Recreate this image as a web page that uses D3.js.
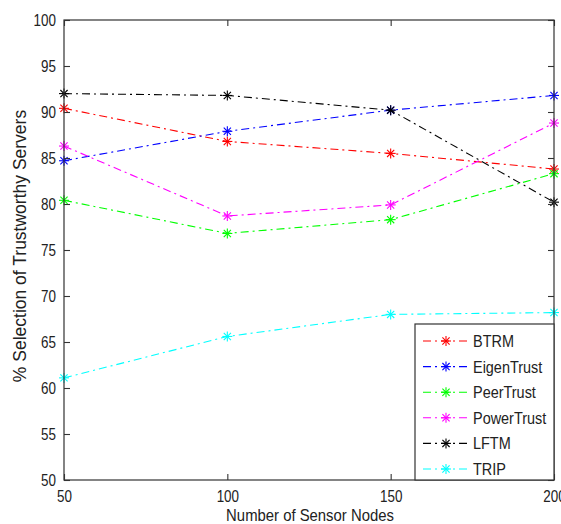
<!DOCTYPE html>
<html>
<head>
<meta charset="utf-8">
<script src="https://cdn.jsdelivr.net/npm/d3@7"></script>
<style>
  html, body { margin: 0; padding: 0; background: #fff; }
  svg { display: block; }
  text { font-family: "Liberation Sans", Arial, sans-serif; fill: #222; }
</style>
</head>
<body>
<svg id="chart" width="561" height="524"></svg>
<script>
// Number of sensor nodes on the x axis
const nodes = [50, 100, 150, 200];

// % selection of trustworthy servers for each scheme
const seriesNames = ["BTRM", "EigenTrust", "PeerTrust", "PowerTrust", "LFTM", "TRIP"];
const btrm       = [90.4, 86.8, 85.5, 83.8];
const eigenTrust = [84.7, 87.9, 90.2, 91.8];
const peerTrust  = [80.4, 76.8, 78.3, 83.3];
const powerTrust = [86.3, 78.7, 79.9, 88.8];
const lftm       = [92.0, 91.8, 90.2, 80.2];
const trip       = [61.1, 65.6, 68.0, 68.2];
const seriesColors = ["#ff0000", "#0000ff", "#00ff00", "#ff00ff", "#000000", "#00ffff"];

const xTicks = [50, 100, 150, 200];
const yTicks = [50, 55, 60, 65, 70, 75, 80, 85, 90, 95, 100];

const allValues = [btrm, eigenTrust, peerTrust, powerTrust, lftm, trip];
const series = seriesNames.map((name, i) => ({
  name,
  color: seriesColors[i],
  points: nodes.map((n, j) => ({ x: n, y: allValues[i][j] }))
}));

const svg = d3.select("#chart");
const plot = { left: 64, top: 20, right: 554, bottom: 480 };

const x = d3.scaleLinear().domain([50, 200]).range([plot.left, plot.right]);
const y = d3.scaleLinear().domain([50, 100]).range([plot.bottom, plot.top]);

const axisColor = "#333";
const tickLen = 6;
const dashDot = "8,4,2,4";

// Series lines (dash-dot) with asterisk markers
const line = d3.line().x(d => x(d.x)).y(d => y(d.y));

function asterisk(g, cx, cy, r, color) {
  const d = r * 0.72;
  const segs = [
    [cx - r, cy, cx + r, cy],
    [cx, cy - r, cx, cy + r],
    [cx - d, cy - d, cx + d, cy + d],
    [cx - d, cy + d, cx + d, cy - d]
  ];
  segs.forEach(s => {
    g.append("line")
      .attr("x1", s[0]).attr("y1", s[1]).attr("x2", s[2]).attr("y2", s[3])
      .attr("stroke", color).attr("stroke-width", 1.1);
  });
}

const linesG = svg.append("g");
series.forEach(s => {
  linesG.append("path")
    .datum(s.points)
    .attr("d", line)
    .attr("fill", "none")
    .attr("stroke", s.color)
    .attr("stroke-width", 1.1)
    .attr("stroke-dasharray", dashDot);
  s.points.forEach(p => asterisk(linesG, x(p.x), y(p.y), 5, s.color));
});

// Box around the plot area
svg.append("rect")
  .attr("x", plot.left).attr("y", plot.top)
  .attr("width", plot.right - plot.left).attr("height", plot.bottom - plot.top)
  .attr("fill", "none").attr("stroke", axisColor).attr("stroke-width", 1.2);

// Axes with inward ticks, mirrored on top/right
const xAxisBottom = d3.axisBottom(x).tickValues(xTicks).tickSize(-tickLen).tickPadding(11).tickFormat(d3.format("d"));
const xAxisTop = d3.axisTop(x).tickValues(xTicks).tickSize(-tickLen).tickFormat("");
const yAxisLeft = d3.axisLeft(y).tickValues(yTicks).tickSize(-tickLen).tickPadding(8).tickFormat(d3.format("d"));
const yAxisRight = d3.axisRight(y).tickValues(yTicks).tickSize(-tickLen).tickFormat("");

function styleAxis(g) {
  g.select(".domain").remove();
  g.selectAll(".tick line").attr("stroke", axisColor).attr("stroke-width", 1.1);
  g.selectAll(".tick text")
    .attr("fill", "#222")
    .style("font-size", "16px")
    .style("font-family", "'Liberation Sans', Arial, sans-serif");
}

const gxb = svg.append("g").attr("transform", `translate(0,${plot.bottom})`).call(xAxisBottom).call(styleAxis);
svg.append("g").attr("transform", `translate(0,${plot.top})`).call(xAxisTop).call(styleAxis);
const gyl = svg.append("g").attr("transform", `translate(${plot.left},0)`).call(yAxisLeft).call(styleAxis);
svg.append("g").attr("transform", `translate(${plot.right},0)`).call(yAxisRight).call(styleAxis);

// Narrow the tick labels horizontally
gxb.selectAll(".tick text").each(function () {
  const t = d3.select(this);
  t.attr("transform", "scale(0.84,1)").attr("x", 0);
});
gxb.selectAll(".tick").each(function (d) {
  d3.select(this).select("text").attr("x", 0);
});
gyl.selectAll(".tick text").attr("dy", "0.36em").each(function () {
  const t = d3.select(this);
  const xx = +t.attr("x");
  t.attr("transform", `translate(${xx},0) scale(0.84,1)`).attr("x", 0);
});

// Axis titles
svg.append("text")
  .attr("transform", `translate(${(plot.left + plot.right) / 2 + 1},521) scale(0.93,1)`)
  .attr("text-anchor", "middle")
  .style("font-size", "16px")
  .text("Number of Sensor Nodes");

svg.append("text")
  .attr("transform", `translate(26,${(plot.top + plot.bottom) / 2 - 4}) rotate(-90)`)
  .attr("text-anchor", "middle")
  .style("font-size", "17.5px")
  .text("% Selection of Trustworthy Servers");

// Legend
const legend = { x0: 415, y0: 324, x1: plot.right, y1: plot.bottom };
const lg = svg.append("g");
lg.append("rect")
  .attr("x", legend.x0).attr("y", legend.y0)
  .attr("width", legend.x1 - legend.x0).attr("height", legend.y1 - legend.y0)
  .attr("fill", "#fff").attr("stroke", axisColor).attr("stroke-width", 1.2);

series.forEach((s, i) => {
  const cy = 341 + i * 25.6;
  lg.append("line")
    .attr("x1", 423).attr("x2", 468).attr("y1", cy).attr("y2", cy)
    .attr("stroke", s.color).attr("stroke-width", 1.1)
    .attr("stroke-dasharray", dashDot);
  asterisk(lg, 446, cy, 5, s.color);
  lg.append("text")
    .attr("transform", `translate(473,${cy + 6}) scale(0.85,1)`)
    .style("font-size", "17px")
    .text(s.name);
});
</script>
</body>
</html>
